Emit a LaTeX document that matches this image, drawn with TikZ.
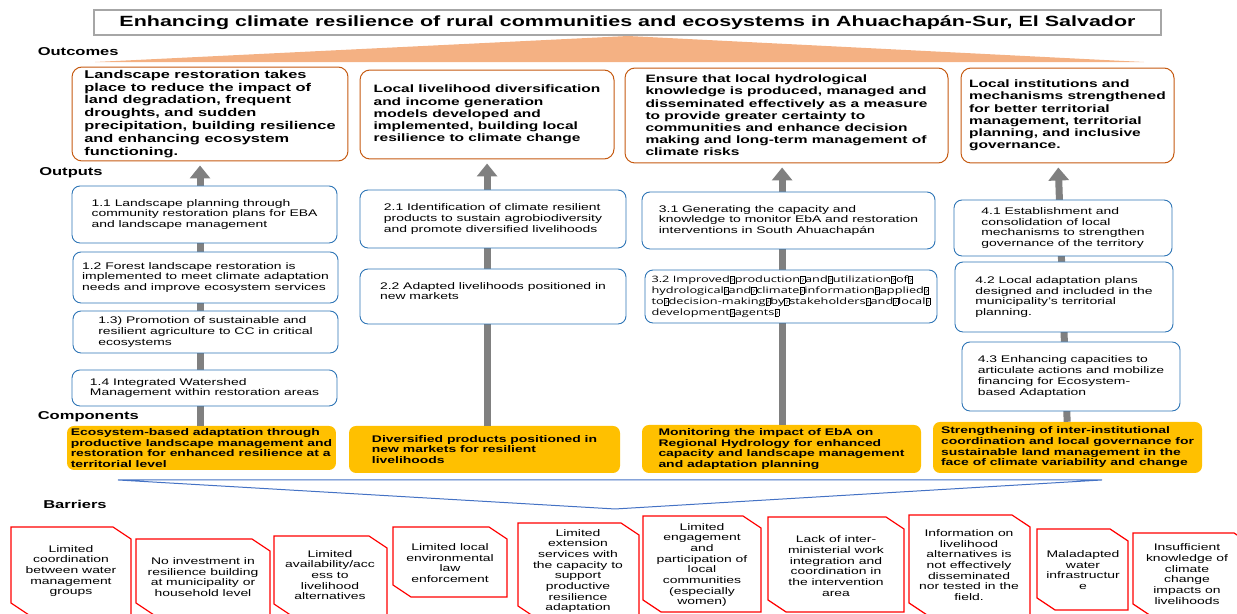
\documentclass[tikz,border=0pt]{standalone}
\usepackage{fontspec}
\setmainfont{Liberation Sans}
\newfontfamily\qfont{Open Sans}
\usetikzlibrary{arrows.meta}

\definecolor{titlegray}{RGB}{166,166,166}
\definecolor{wedgeorange}{RGB}{244,177,131}
\definecolor{outcomeline}{RGB}{197,90,17}
\definecolor{outputline}{RGB}{46,117,182}
\definecolor{compyellow}{RGB}{255,192,0}
\definecolor{arrowgray}{RGB}{128,128,128}
\definecolor{wedgeblue}{RGB}{68,114,196}

% horizontal stretch of the text
\newcommand\sx{1.45}
% the missing glyph box of output 3.2
\newcommand\qg{{\setlength\fboxsep{0.3pt}\setlength\fboxrule{0.4pt}\fbox{\rule{0pt}{5.6pt}\fontsize{4.6}{5}\selectfont ?}}}

\tikzset{
  titlebox/.style={draw=titlegray, line width=2.5pt, fill=white, inner sep=0pt,
    font=\bfseries\fontsize{14.8}{16}\selectfont},
  rowlabel/.style={anchor=west, inner sep=0pt, font=\bfseries\fontsize{11.4}{13}\selectfont},
  outcome/.style={draw=outcomeline, line width=1pt, rounded corners=10pt, fill=white,
    align=left, inner sep=0pt, font=\bfseries\fontsize{10.7}{12.2}\selectfont},
  output/.style={draw=outputline, line width=0.9pt, rounded corners=8pt, fill=white,
    align=left, inner sep=0pt, font=\fontsize{9.6}{10.7}\selectfont},
  component/.style={fill=compyellow, rounded corners=7pt,
    align=left, inner sep=0pt, font=\bfseries\fontsize{9.6}{10.7}\selectfont},
  barrier/.style={draw=red, line width=1.2pt, fill=white},
  bartext/.style={align=center, inner sep=0pt, font=\fontsize{9.6}{10.7}\selectfont},
  uparrow/.style={draw=arrowgray, line width=7pt, -{Triangle[width=20pt,length=13pt]}, shorten >=4pt},
}

\begin{document}
\begin{tikzpicture}[x=0.6897pt, y=-1pt, xscale=\sx, every node/.append style={transform shape}]
   \path[use as bounding box, clip] (0,0) rectangle (1237,614);

   % goal
   \fill[wedgeorange] (95,62) -- (628,36) -- (1144,62) -- cycle;
   \node[titlebox, minimum width=1067pt/\sx, minimum height=25pt] (goal) at (627.5,22.5)
      {Enhancing climate resilience of rural communities and ecosystems in Ahuachapán-Sur, El Salvador};

   \node[rowlabel] (lout) at (37.5,52) {Outcomes};
   \node[rowlabel] (lput) at (39,173) {Outputs};
   \node[rowlabel] (lcom) at (37.5,417) {Components};
   \node[rowlabel] (lbar) at (43,504) {Barriers};

   % outcomes
   \node[outcome, font=\bfseries\fontsize{11.3}{12.9}\selectfont,
         minimum width=276pt/\sx, minimum height=94pt] (o1) at (210,114)
      {Landscape restoration takes\\place to reduce the impact of\\land degradation, frequent\\droughts, and sudden\\precipitation, building resilience\\and enhancing ecosystem\\functioning.};
   \node[outcome, minimum width=254pt/\sx, minimum height=89pt] (o2) at (487,114.5)
      {Local livelihood diversification\\and income generation\\models developed and\\implemented, building local\\resilience to climate change};
   \node[outcome, minimum width=323pt/\sx, minimum height=95pt] (o3) at (786.5,115.5)
      {Ensure that local hydrological\\knowledge is produced, managed and\\disseminated effectively as a measure\\to provide greater certainty to\\communities and enhance decision\\making and long-term management of\\climate risks};
   \node[outcome, minimum width=213pt/\sx, minimum height=95pt] (o4) at (1067.5,115.5)
      {Local institutions and\\mechanisms strengthened\\for better territorial\\management, territorial\\planning, and inclusive\\governance.};

   % components
   \node[component, minimum width=269pt/\sx, minimum height=44pt] (c1) at (201.5,448)
      {Ecosystem-based adaptation through\\productive landscape management and\\restoration for enhanced resilience at a\\territorial level};
   \node[component, minimum width=271pt/\sx, minimum height=47pt] (c2) at (484.5,449.5)
      {Diversified products positioned in\\new markets for resilient\\livelihoods};
   \node[component, minimum width=279pt/\sx, minimum height=48pt] (c3) at (781.5,449)
      {Monitoring the impact of EbA on\\Regional Hydrology for enhanced\\capacity and landscape management\\and adaptation planning};
   \node[component, minimum width=269pt/\sx, minimum height=51pt] (c4) at (1067.5,447.5)
      {Strengthening of inter-institutional\\coordination and local governance for\\sustainable land management in the\\face of climate variability and change};

   % arrows from components to outcomes
   \coordinate (a1) at (200,0);
   \coordinate (a2) at (487,0);
   \coordinate (a3) at (782,0);
   \coordinate (a4b) at (1067,0);
   \coordinate (a4t) at (1058,0);
   \draw[uparrow] (a1 |- c1.north) -- (a1 |- o1.south);
   \draw[uparrow] (a2 |- c2.north) -- (a2 |- o2.south);
   \draw[uparrow] (a3 |- c3.north) -- (a3 |- o3.south);
   \draw[uparrow] (a4b |- c4.north) -- (a4t |- o4.south);

   % outputs
   \node[output, minimum width=265pt/\sx, minimum height=57pt] (p11) at (204.5,214.5)
      {1.1 Landscape planning through\\community restoration plans for EBA\\and landscape management};
   \node[output, minimum width=265pt/\sx, minimum height=51pt] (p12) at (205.5,277.5)
      {1.2 Forest landscape restoration is\\implemented to meet climate adaptation\\needs and improve ecosystem services};
   \node[output, minimum width=265pt/\sx, minimum height=42pt] (p13) at (205.5,332)
      {1.3) Promotion of sustainable and\\resilient agriculture to CC in critical\\ecosystems};
   \node[output, minimum width=265pt/\sx, minimum height=36pt] (p14) at (204.5,388)
      {1.4 Integrated Watershed\\Management within restoration areas};

   \node[output, minimum width=266pt/\sx, minimum height=58pt] (p21) at (493,219)
      {2.1 Identification of climate resilient\\products to sustain agrobiodiversity\\and promote diversified livelihoods};
   \node[output, minimum width=266pt/\sx, minimum height=55pt] (p22) at (493,296.5)
      {2.2 Adapted livelihoods positioned in\\new markets\\\mbox{}};

   \node[output, minimum width=293pt/\sx, minimum height=57pt] (p31) at (788.5,220.5)
      {3.1 Generating the capacity and\\knowledge to monitor EbA and restoration\\interventions in South Ahuachapán};
   \node[output, font=\qfont\fontsize{8.8}{10.9}\selectfont,
         minimum width=292pt/\sx, minimum height=53pt] (p32) at (791,296.5)
      {3.2 Improved\qg production\qg and\qg utilization\qg of\qg\\hydrological\qg and\qg climate\qg information\qg applied\qg\\to\qg decision-making\qg by\qg stakeholders\qg and\qg local\qg\\development\qg agents\qg};

   \node[output, minimum width=218pt/\sx, minimum height=56pt] (p41) at (1063,228)
      {4.1 Establishment and\\consolidation of local\\mechanisms to strengthen\\governance of the territory};
   \node[output, minimum width=218pt/\sx, minimum height=70pt] (p42) at (1064,297)
      {4.2 Local adaptation plans\\designed and included in the\\municipality’s territorial\\planning.};
   \node[output, minimum width=218pt/\sx, minimum height=69pt] (p43) at (1071,376.5)
      {4.3 Enhancing capacities to\\articulate actions and mobilize\\financing for Ecosystem-\\based Adaptation};

   % barriers
   \draw[wedgeblue, line width=1pt] (118,480) -- (1102,480) -- (615,509) -- cycle;

   \foreach \xa/\xb/\yt/\yb in {11/131/527/615, 136/270/539/615, 274/387/536/616,
        393/507/527/597, 518/639/523/618, 643/761/516/612, 768/904/517/612,
        909/1030/515/615, 1037/1128/529/610, 1133/1252/533/616}
   \draw[barrier] (\xa,\yt) -- (\xb-18,\yt) -- (\xb,\yt+12) -- (\xb,\yb)
                  -- (\xa+18,\yb) -- (\xa,\yb-12) -- cycle;

   \node[bartext] (b1) at (71,571) {Limited\\coordination\\between water\\management\\groups};
   \node[bartext] (b2) at (203,577) {No investment in\\resilience building\\at municipality or\\household level};
   \node[bartext] (b3) at (330,575) {Limited\\availability/acc\\ess to\\livelihood\\alternatives};
   \node[bartext] (b4) at (450,563) {Limited local\\environmental\\law\\enforcement};
   \node[bartext] (b5) at (578,571) {Limited\\extension\\services with\\the capacity to\\support\\productive\\resilience\\adaptation};
   \node[bartext] (b6) at (702,565) {Limited\\engagement\\and\\participation of\\local\\communities\\(especially\\women)};
   \node[bartext] (b7) at (836,566) {Lack of inter-\\ministerial work\\integration and\\coordination in\\the intervention\\area};
   \node[bartext] (b8) at (969,565) {Information on\\livelihood\\alternatives is\\not effectively\\disseminated\\nor tested in the\\field.};
   \node[bartext] (b9) at (1083,570) {Maladapted\\water\\infrastructur\\e};
   \node[bartext] (b10) at (1187,574) {Insufficient\\knowledge of\\climate\\change\\impacts on\\livelihoods};

\end{tikzpicture}
\end{document}
